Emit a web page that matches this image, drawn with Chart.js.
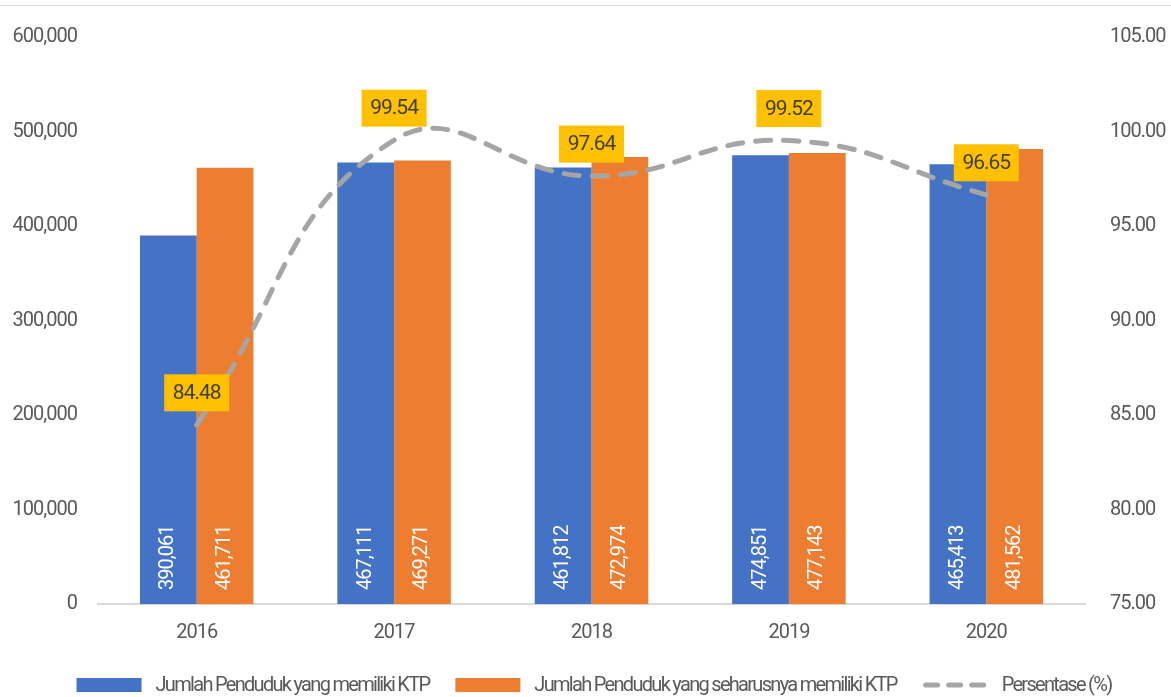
<!DOCTYPE html>
<html>
<head>
<meta charset="utf-8">
<script src="https://cdn.jsdelivr.net/npm/chart.js@4/dist/chart.umd.min.js"></script>
<style>
  html, body { margin: 0; padding: 0; background: #fff; }
  #wrap { width: 1171px; height: 697px; position: relative; }
</style>
</head>
<body>
<div id="wrap"><canvas id="myCanvas" width="1171" height="697"></canvas></div>
<script>
var years = ["2016", "2017", "2018", "2019", "2020"];
var punyaKtp = [390061, 467111, 461812, 474851, 465413];
var harusKtp = [461711, 469271, 472974, 477143, 481562];
var persen = [84.48, 99.54, 97.64, 99.52, 96.65];

var FONT = "Roboto, 'Liberation Sans Narrow', sans-serif";
var GREY = "#595959";

function fmt(n) {
  return n.toLocaleString("en-US");
}

// thin frame line at the top + narrow letters for everything
var framePlugin = {
  id: "frame",
  beforeDraw: function (chart) {
    var ctx = chart.ctx;
    ctx.letterSpacing = "-1px";
    ctx.save();
    ctx.strokeStyle = "#d9d9d9";
    ctx.lineWidth = 1;
    ctx.beginPath();
    ctx.moveTo(0, 5.5);
    ctx.lineTo(chart.width, 5.5);
    ctx.stroke();
    ctx.restore();
  }
};

// rotated values inside the bars
var barLabels = {
  id: "barLabels",
  afterDatasetsDraw: function (chart) {
    var ctx = chart.ctx;
    ctx.save();
    ctx.fillStyle = "#ffffff";
    ctx.font = "20px " + FONT;
    ctx.letterSpacing = "-1px";
    ctx.textAlign = "left";
    ctx.textBaseline = "middle";
    [0, 1].forEach(function (di) {
      var meta = chart.getDatasetMeta(di);
      meta.data.forEach(function (bar, i) {
        var v = chart.data.datasets[di].data[i];
        ctx.save();
        ctx.translate(bar.x, chart.chartArea.bottom - 14);
        ctx.rotate(-Math.PI / 2);
        ctx.fillText(fmt(v), 0, 0);
        ctx.restore();
      });
    });
    ctx.restore();
  }
};

// yellow boxes above the line points
var pctLabels = {
  id: "pctLabels",
  afterDatasetsDraw: function (chart) {
    var ctx = chart.ctx;
    var meta = chart.getDatasetMeta(2);
    ctx.save();
    ctx.font = "21px " + FONT;
    ctx.letterSpacing = "-1px";
    ctx.textAlign = "center";
    ctx.textBaseline = "middle";
    meta.data.forEach(function (pt, i) {
      var cx = pt.x, cy = pt.y - 32;
      ctx.fillStyle = "#FFC000";
      ctx.fillRect(cx - 32.5, cy - 18.5, 65, 37);
      ctx.fillStyle = "#404040";
      ctx.fillText(persen[i].toFixed(2), cx, cy + 1);
    });
    ctx.restore();
  }
};

// legend at the bottom
var legendPlugin = {
  id: "bottomLegend",
  afterDraw: function (chart) {
    var ctx = chart.ctx;
    var y = 685;
    var items = [
      { text: "Jumlah Penduduk yang memiliki KTP", color: "#4472C4", kind: "box" },
      { text: "Jumlah Penduduk yang seharusnya memiliki KTP", color: "#ED7D31", kind: "box" },
      { text: "Persentase (%)", color: "#A5A5A5", kind: "line" }
    ];
    ctx.save();
    ctx.font = "20px " + FONT;
    ctx.letterSpacing = "-1.7px";
    var total = 0;
    items.forEach(function (it, i) {
      it.w = ctx.measureText(it.text).width;
      total += 65 + 14 + it.w + (i < items.length - 1 ? 26 : 0);
    });
    var x = 594 - total / 2;
    ctx.textBaseline = "middle";
    ctx.textAlign = "left";
    items.forEach(function (it) {
      if (it.kind === "box") {
        ctx.fillStyle = it.color;
        ctx.fillRect(x, y - 7, 65, 14);
      } else {
        ctx.strokeStyle = it.color;
        ctx.lineWidth = 5;
        ctx.lineCap = "round";
        ctx.setLineDash([12, 11]);
        ctx.beginPath();
        ctx.moveTo(x + 3, y);
        ctx.lineTo(x + 65, y);
        ctx.stroke();
        ctx.setLineDash([]);
      }
      ctx.fillStyle = GREY;
      ctx.fillText(it.text, x + 65 + 14, y + 1);
      x += 65 + 14 + it.w + 26;
    });
    ctx.restore();
  }
};

var ctx = document.getElementById("myCanvas").getContext("2d");
var chart = new Chart(ctx, {
  type: "bar",
  data: {
    labels: years,
    datasets: [
      {
        label: "Jumlah Penduduk yang memiliki KTP",
        data: punyaKtp,
        backgroundColor: "#4472C4",
        yAxisID: "y",
        order: 2
      },
      {
        label: "Jumlah Penduduk yang seharusnya memiliki KTP",
        data: harusKtp,
        backgroundColor: "#ED7D31",
        yAxisID: "y",
        order: 2
      },
      {
        type: "line",
        label: "Persentase (%)",
        data: persen,
        borderColor: "#A5A5A5",
        borderWidth: 5,
        borderDash: [15, 13],
        borderCapStyle: "round",
        tension: 0.45,
        pointRadius: 0,
        fill: false,
        yAxisID: "y1",
        order: 1
      }
    ]
  },
  options: {
    responsive: false,
    animation: false,
    devicePixelRatio: 1,
    layout: { padding: { top: 33, left: 0, right: 0, bottom: 0 } },
    datasets: {
      bar: { categoryPercentage: 0.575, barPercentage: 1.0 }
    },
    plugins: {
      legend: { display: false },
      tooltip: { enabled: false }
    },
    scales: {
      x: {
        grid: { display: false, drawTicks: false },
        border: { display: true, color: "#d9d9d9", width: 2 },
        ticks: { color: GREY, font: { family: FONT, size: 20 }, padding: 17, maxRotation: 0 },
        afterFit: function (s) { s.height = 93; }
      },
      y: {
        position: "left",
        min: 0,
        max: 600000,
        grid: { display: false, drawTicks: false },
        border: { display: false },
        ticks: {
          stepSize: 100000,
          color: GREY,
          font: { family: FONT, size: 20 },
          padding: 21,
          callback: function (v) { return fmt(v); }
        },
        afterFit: function (s) { s.width = 98; }
      },
      y1: {
        position: "right",
        min: 75,
        max: 105,
        grid: { display: false, drawTicks: false },
        border: { display: false },
        ticks: {
          stepSize: 5,
          color: GREY,
          font: { family: FONT, size: 20 },
          padding: 25,
          callback: function (v) { return v.toFixed(2); }
        },
        afterFit: function (s) { s.width = 86; }
      }
    }
  },
  plugins: [framePlugin, barLabels, pctLabels, legendPlugin]
});
</script>
</body>
</html>
